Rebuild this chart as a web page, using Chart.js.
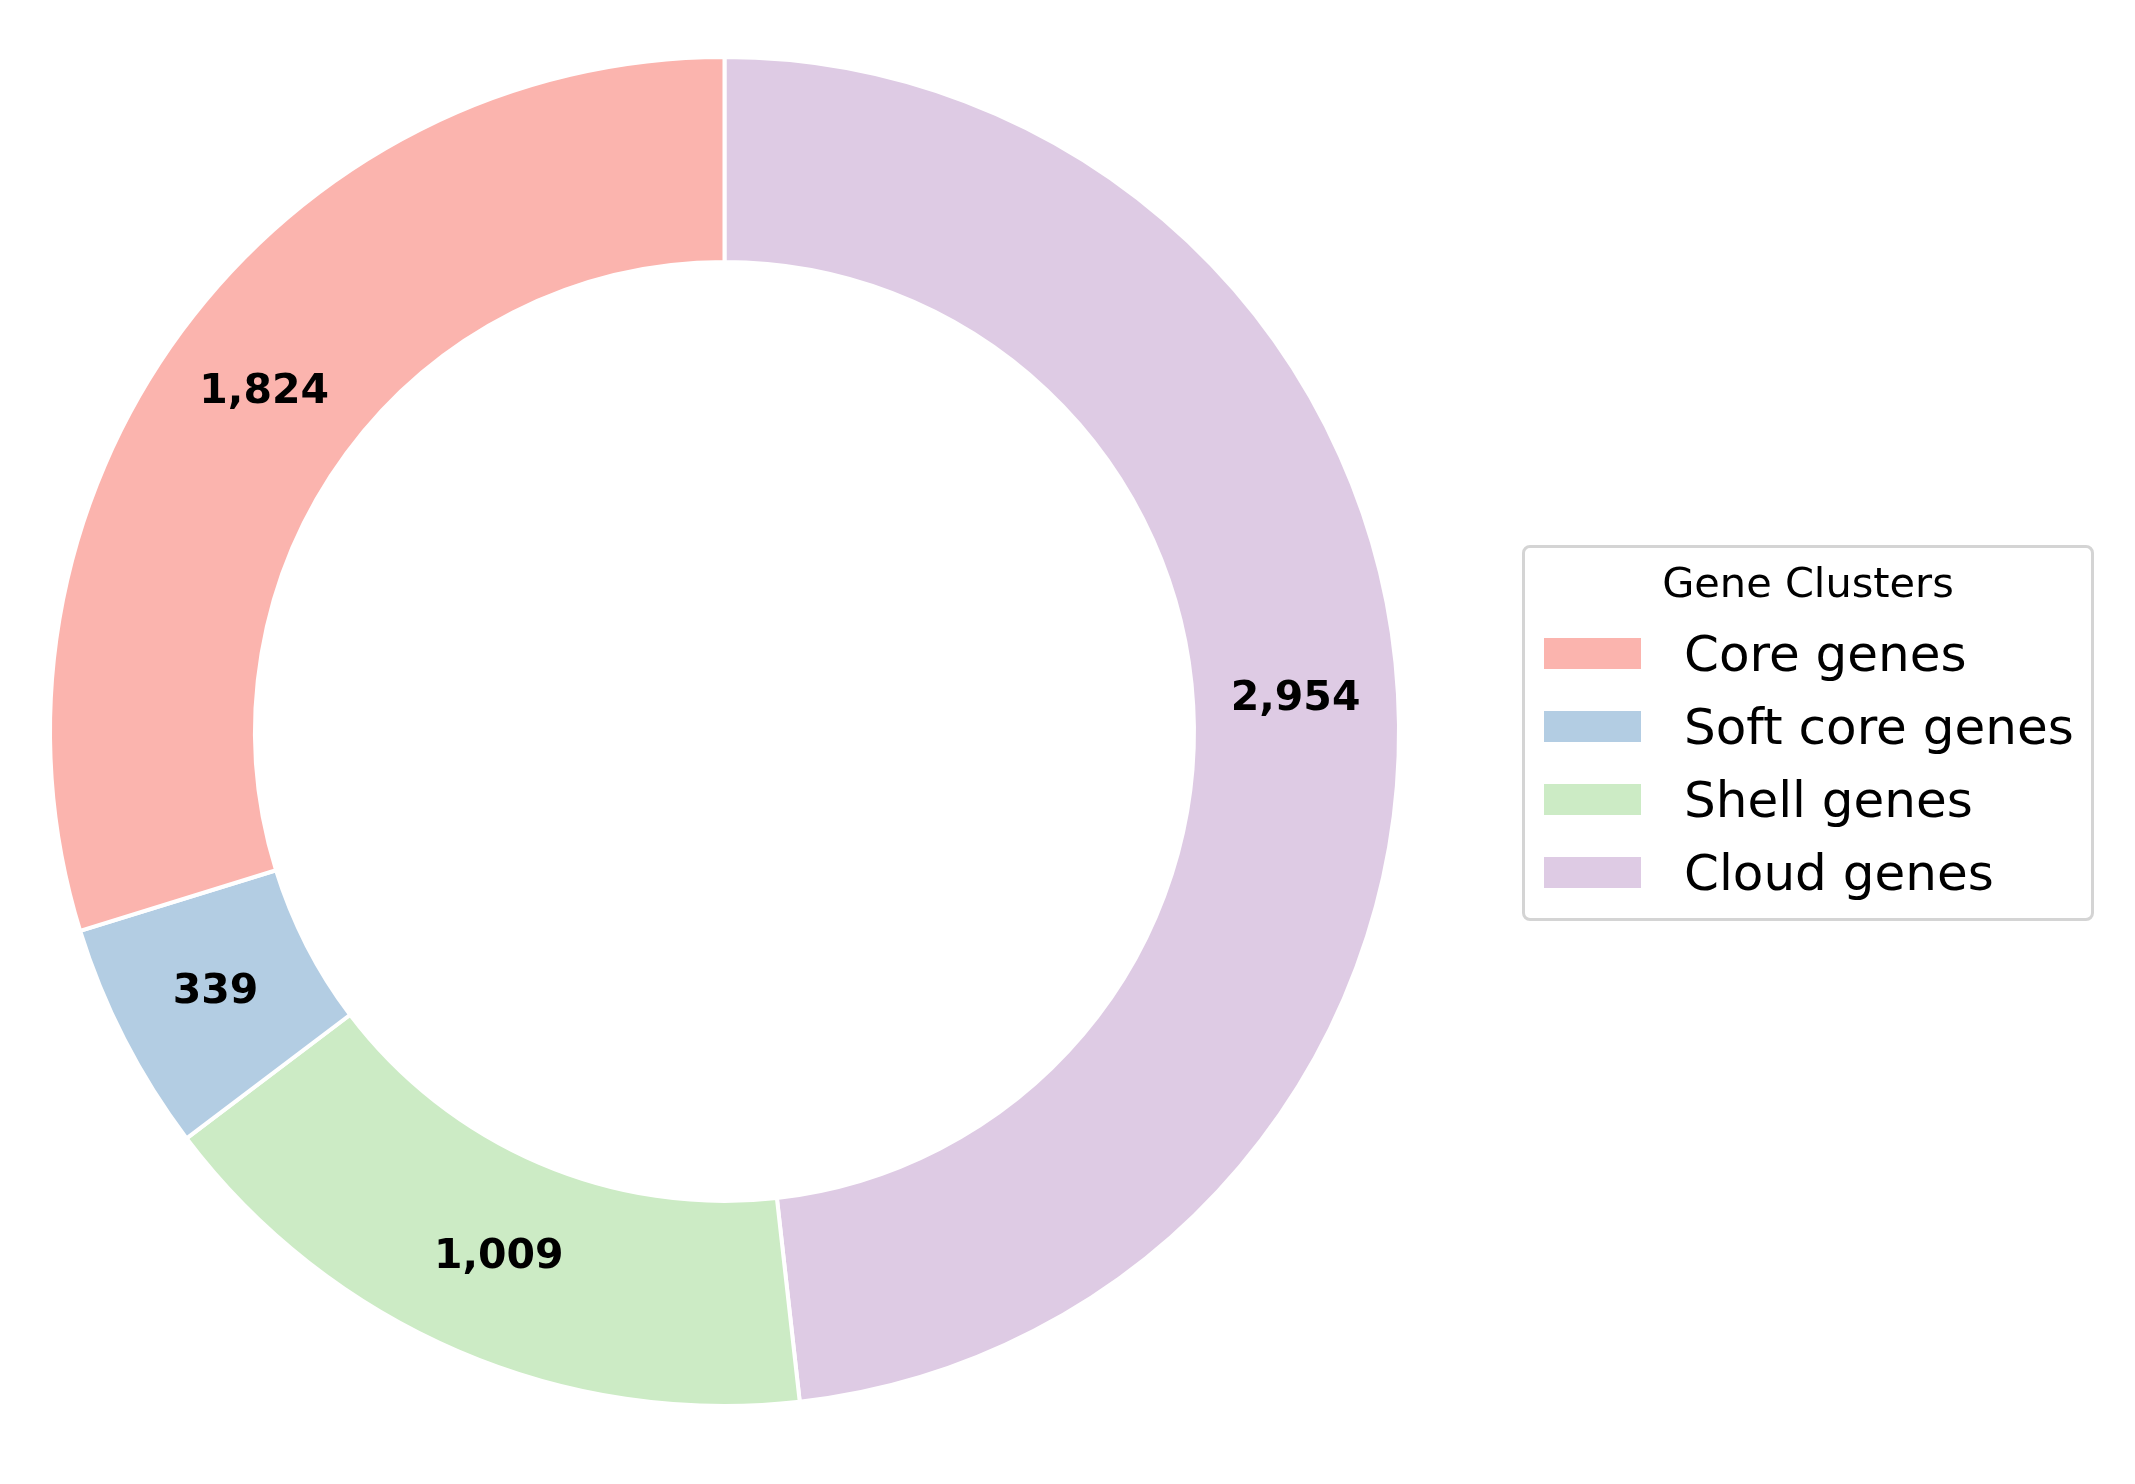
<!DOCTYPE html>
<html>
<head>
<meta charset="utf-8">
<script src="https://cdn.jsdelivr.net/npm/chart.js@4.4.1/dist/chart.umd.min.js"></script>
<style>
  html, body { margin: 0; padding: 0; background: #ffffff; }
  #wrap { position: relative; width: 2135px; height: 1484px; overflow: hidden; }
  #chart { position: absolute; left: 0; top: 0; }
  #legend { position: absolute; left: 1522px; top: 545px; width: 566px; height: 370px;
            border: 3px solid #d4d4d4; border-radius: 8px; background: #ffffff;
            font-family: "DejaVu Sans", sans-serif; color: #000; }
  .ltitle { position: absolute; left: 0; width: 100%; text-align: center; font-size: 41.5px;
            height: 50px; line-height: 50px; }
  .item { position: absolute; left: 0; height: 60px; width: 100%; }
  .patch { position: absolute; left: 19px; width: 97px; height: 31px; top: 14px; }
  .lab { position: absolute; left: 159px; top: 0; font-size: 50px; line-height: 60px; white-space: nowrap; }
</style>
</head>
<body>
<div id="wrap">
  <canvas id="chart" width="2135" height="1484"></canvas>
  <div id="legend"></div>
</div>
<script>
const categories = ['Core genes', 'Soft core genes', 'Shell genes', 'Cloud genes'];
const geneCounts = [1824, 339, 1009, 2954];
const sliceColors = ['#fbb4ae', '#b3cde3', '#ccebc5', '#decbe4'];
const legendTitle = 'Gene Clusters';

// matplotlib draws counterclockwise from the top; Chart.js draws clockwise,
// so feed the library reversed copies of the arrays.
const revLabels = categories.slice().reverse();
const revValues = geneCounts.slice().reverse();
const revColors = sliceColors.slice().reverse();

const valueLabels = {
  id: 'valueLabels',
  afterDatasetsDraw(chart) {
    const ctx = chart.ctx;
    const meta = chart.getDatasetMeta(0);
    const data = chart.data.datasets[0].data;
    ctx.save();
    ctx.font = 'bold 41px "DejaVu Sans", sans-serif';
    ctx.fillStyle = '#000000';
    ctx.textAlign = 'center';
    ctx.textBaseline = 'middle';
    meta.data.forEach((arc, i) => {
      const p = arc.getCenterPoint();
      ctx.fillText(data[i].toLocaleString('en-US'), p.x, p.y);
    });
    ctx.restore();
  }
};

new Chart(document.getElementById('chart'), {
  type: 'doughnut',
  data: {
    labels: revLabels,
    datasets: [{
      data: revValues,
      backgroundColor: revColors,
      borderColor: '#ffffff',
      borderWidth: 4,
      hoverOffset: 0
    }]
  },
  options: {
    responsive: false,
    animation: false,
    cutout: '69.6%',
    rotation: 0,
    layout: { padding: { left: 48, top: 55, right: 734, bottom: 76 } },
    plugins: {
      legend: { display: false },
      tooltip: { enabled: false }
    }
  },
  plugins: [valueLabels]
});

// legend (DOM text)
const leg = document.getElementById('legend');
const t = document.createElement('div');
t.className = 'ltitle';
t.textContent = legendTitle;
t.style.top = (583 - 545 - 3 - 25) + 'px';
leg.appendChild(t);
const itemCenters = [654, 727, 800, 873];
categories.forEach((c, i) => {
  const it = document.createElement('div');
  it.className = 'item';
  it.style.top = (itemCenters[i] - 545 - 3 - 30) + 'px';
  const p = document.createElement('div');
  p.className = 'patch';
  p.style.background = sliceColors[i];
  const l = document.createElement('div');
  l.className = 'lab';
  l.textContent = c;
  it.appendChild(p);
  it.appendChild(l);
  leg.appendChild(it);
});
</script>
</body>
</html>
